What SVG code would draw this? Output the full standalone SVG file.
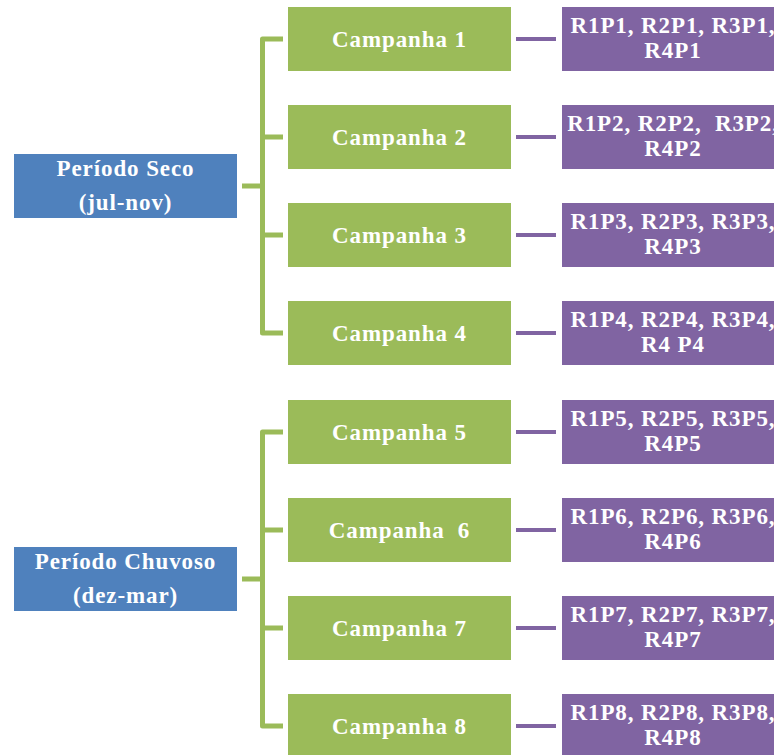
<svg xmlns="http://www.w3.org/2000/svg" width="774" height="755" viewBox="0 0 774 755">
<style>
.t{font-family:"Liberation Serif","Times New Roman",serif;font-weight:bold;font-size:23px;fill:#fff;text-anchor:middle;letter-spacing:0.9px;white-space:pre}
.blue{fill:#4F81BD}
.green{fill:#9BBB59}
.purple{fill:#8064A2}
.br{fill:none;stroke:#9BBB59;stroke-width:5;stroke-linejoin:round}
.pl{fill:none;stroke:#8064A2;stroke-width:4}
</style>
<rect width="774" height="755" fill="#fff"/>
<g id="connectors">
<path class="br" d="M283,39 H262.5 V333 H283 M242,186 H262.5 M262.5,137 H283 M262.5,235 H283"/>
<path class="br" d="M283,432 H262.5 V726 H283 M242,579 H262.5 M262.5,530 H283 M262.5,628 H283"/>
<path class="pl" d="M516,39 H556 M516,137 H556 M516,235 H556 M516,333 H556 M516,432 H556 M516,530 H556 M516,628 H556 M516,726 H556"/>
</g>
<g id="seco"><rect class="blue" x="14" y="154" width="223" height="64"/><text class="t" x="125.5" y="176">Período Seco</text><text class="t" x="125.5" y="210">(jul-nov)</text></g>
<g id="chuvoso"><rect class="blue" x="14" y="547" width="223" height="64"/><text class="t" x="125.5" y="569">Período Chuvoso</text><text class="t" x="125.5" y="603">(dez-mar)</text></g>
<g id="c1"><rect class="green" x="288" y="7" width="223" height="64"/><text class="t" x="399.5" y="47">Campanha 1</text></g>
<g id="c2"><rect class="green" x="288" y="105" width="223" height="64"/><text class="t" x="399.5" y="145">Campanha 2</text></g>
<g id="c3"><rect class="green" x="288" y="203" width="223" height="64"/><text class="t" x="399.5" y="243">Campanha 3</text></g>
<g id="c4"><rect class="green" x="288" y="301" width="223" height="64"/><text class="t" x="399.5" y="341">Campanha 4</text></g>
<g id="c5"><rect class="green" x="288" y="400" width="223" height="64"/><text class="t" x="399.5" y="440">Campanha 5</text></g>
<g id="c6"><rect class="green" x="288" y="498" width="223" height="64"/><text class="t" x="399.5" y="538">Campanha  6</text></g>
<g id="c7"><rect class="green" x="288" y="596" width="223" height="64"/><text class="t" x="399.5" y="636">Campanha 7</text></g>
<g id="c8"><rect class="green" x="288" y="694" width="223" height="64"/><text class="t" x="399.5" y="734">Campanha 8</text></g>
<g id="p1"><rect class="purple" x="562" y="7" width="222" height="64"/><text class="t" x="673" y="33">R1P1, R2P1, R3P1,</text><text class="t" x="673" y="58">R4P1</text></g>
<g id="p2"><rect class="purple" x="562" y="105" width="222" height="64"/><text class="t" x="673" y="131">R1P2, R2P2,  R3P2,</text><text class="t" x="673" y="156">R4P2</text></g>
<g id="p3"><rect class="purple" x="562" y="203" width="222" height="64"/><text class="t" x="673" y="229">R1P3, R2P3, R3P3,</text><text class="t" x="673" y="254">R4P3</text></g>
<g id="p4"><rect class="purple" x="562" y="301" width="222" height="64"/><text class="t" x="673" y="327">R1P4, R2P4, R3P4,</text><text class="t" x="673" y="352">R4 P4</text></g>
<g id="p5"><rect class="purple" x="562" y="400" width="222" height="64"/><text class="t" x="673" y="426">R1P5, R2P5, R3P5,</text><text class="t" x="673" y="451">R4P5</text></g>
<g id="p6"><rect class="purple" x="562" y="498" width="222" height="64"/><text class="t" x="673" y="524">R1P6, R2P6, R3P6,</text><text class="t" x="673" y="549">R4P6</text></g>
<g id="p7"><rect class="purple" x="562" y="596" width="222" height="64"/><text class="t" x="673" y="622">R1P7, R2P7, R3P7,</text><text class="t" x="673" y="647">R4P7</text></g>
<g id="p8"><rect class="purple" x="562" y="694" width="222" height="64"/><text class="t" x="673" y="720">R1P8, R2P8, R3P8,</text><text class="t" x="673" y="745">R4P8</text></g>
</svg>
